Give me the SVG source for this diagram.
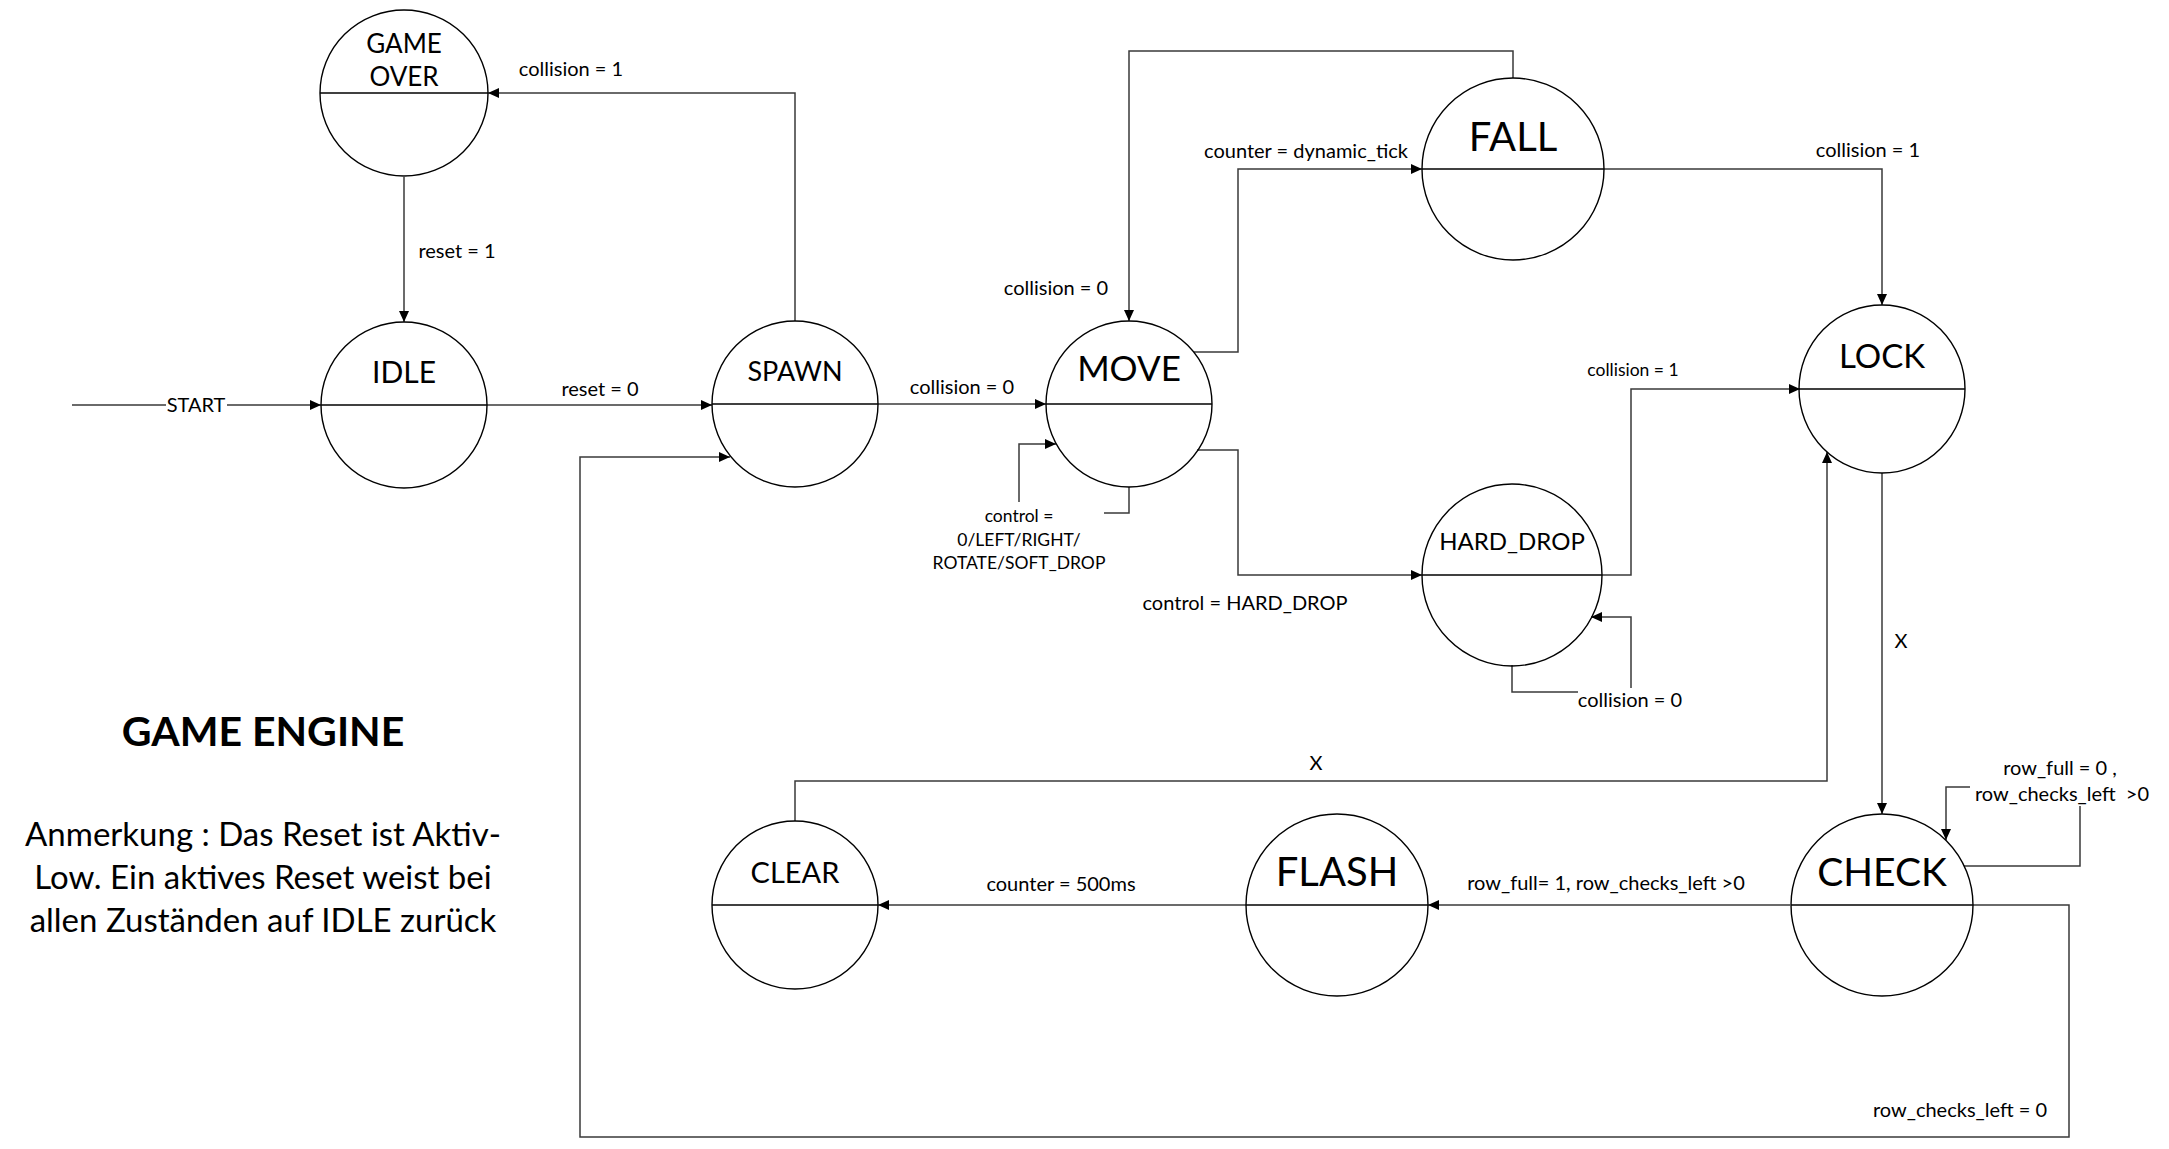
<svg xmlns="http://www.w3.org/2000/svg" width="2169" height="1149" viewBox="0 0 2169 1149">
<defs>
<marker id="arr" markerUnits="userSpaceOnUse" markerWidth="11" markerHeight="10" refX="11" refY="5" orient="auto">
<path d="M0,0 L11,5 L0,10 z" fill="#000"/>
</marker>
<style>
text{font-family:Lato,"Liberation Sans",sans-serif;fill:#000;text-anchor:middle}
.st ellipse{fill:none;stroke:#000;stroke-width:1.4}
.st line{stroke:#000;stroke-width:1.4}
.e{fill:none;stroke:#3a3a3a;stroke-width:1.5}
.a{marker-end:url(#arr)}
.lb{font-size:20px}
.sm{font-size:17.5px}
</style>
</defs>
<rect width="2169" height="1149" fill="#fff"/>

<g id="connectors">
<path class="e a" d="M72,405 H166 M227,405 H321"/>
<path class="e a" d="M487,405 H712"/>
<path class="e a" d="M404,177 V322"/>
<path class="e a" d="M795,321 V93 H488"/>
<path class="e a" d="M878,404 H1046"/>
<path class="e a" d="M1194,352 H1238 V169 H1422"/>
<path class="e a" d="M1513,78 V51 H1129 V321"/>
<path class="e a" d="M1604,169 H1882 V305"/>
<path class="e a" d="M1197,450 H1238 V575 H1422"/>
<path class="e" d="M1129,487 V513 H1104"/>
<path class="e a" d="M1019,502 V444 H1056"/>
<path class="e a" d="M1602,575 H1631 V389 H1800"/>
<path class="e" d="M1512,665 V692 H1578"/>
<path class="e a" d="M1631,688 V617 H1591"/>
<path class="e a" d="M1882,473 V814"/>
<path class="e" d="M1964,866 H2080 V806"/>
<path class="e a" d="M1970,787 H1946 V840"/>
<path class="e a" d="M1790,905 H1428"/>
<path class="e a" d="M1246,905 H878"/>
<path class="e a" d="M795,821 V781 H1827 V452"/>
<path class="e a" d="M1973,905 H2069 V1137 H580 V457 H730"/>

<text class="lb" x="196" y="412">START</text>
<text class="lb" x="600" y="396">reset = 0</text>
<text class="lb" x="457" y="258">reset = 1</text>
<text class="lb" x="571" y="76">collision = 1</text>
<text class="lb" x="962" y="394">collision = 0</text>
<text class="lb" x="1306" y="158">counter = dynamic_tick</text>
<text class="lb" x="1056" y="295">collision = 0</text>
<text class="lb" x="1868" y="157">collision = 1</text>
<text class="sm" x="1633" y="376">collision = 1</text>
<text class="sm" x="1019" y="522">control =</text>
<text class="sm" x="1019" y="546">0/LEFT/RIGHT/</text>
<text class="sm" x="1019" y="569">ROTATE/SOFT_DROP</text>
<text class="lb" x="1245" y="610">control = HARD_DROP</text>
<text class="lb" x="1630" y="707">collision = 0</text>
<text class="lb" x="1901" y="648">X</text>
<text class="lb" x="1316" y="770">X</text>
<text class="lb" x="2060" y="775">row_full = 0 ,</text>
<text class="lb" x="2062" y="801">row_checks_left &#160;&gt;0</text>
<text class="lb" x="1606" y="890">row_full= 1, row_checks_left &gt;0</text>
<text class="lb" x="1061" y="891">counter = 500ms</text>
<text class="lb" x="1960" y="1117">row_checks_left = 0</text>
</g>

<g id="GAME_OVER" class="st">
<ellipse cx="404" cy="93" rx="84" ry="83"/>
<line x1="320" y1="93" x2="488" y2="93"/>
<text x="404" y="53" font-size="26">GAME</text>
<text x="404" y="86" font-size="26">OVER</text>
</g>
<g id="IDLE" class="st">
<ellipse cx="404" cy="405" rx="83" ry="83"/>
<line x1="321" y1="405" x2="487" y2="405"/>
<text x="404" y="383" font-size="30">IDLE</text>
</g>
<g id="SPAWN" class="st">
<ellipse cx="795" cy="404" rx="83" ry="83"/>
<line x1="712" y1="404" x2="878" y2="404"/>
<text x="795" y="381" font-size="27">SPAWN</text>
</g>
<g id="MOVE" class="st">
<ellipse cx="1129" cy="404" rx="83" ry="83"/>
<line x1="1046" y1="404" x2="1212" y2="404"/>
<text x="1129" y="381" font-size="35">MOVE</text>
</g>
<g id="FALL" class="st">
<ellipse cx="1513" cy="169" rx="91" ry="91"/>
<line x1="1422" y1="169" x2="1604" y2="169"/>
<text x="1513" y="151" font-size="40">FALL</text>
</g>
<g id="LOCK" class="st">
<ellipse cx="1882" cy="389" rx="83" ry="84"/>
<line x1="1799" y1="389" x2="1965" y2="389"/>
<text x="1882" y="368" font-size="33">LOCK</text>
</g>
<g id="HARD_DROP" class="st">
<ellipse cx="1512" cy="575" rx="90" ry="91"/>
<line x1="1422" y1="575" x2="1602" y2="575"/>
<text x="1512" y="550" font-size="24">HARD_DROP</text>
</g>
<g id="CHECK" class="st">
<ellipse cx="1882" cy="905" rx="91" ry="91"/>
<line x1="1791" y1="905" x2="1973" y2="905"/>
<text x="1882" y="886" font-size="39">CHECK</text>
</g>
<g id="FLASH" class="st">
<ellipse cx="1337" cy="905" rx="91" ry="91"/>
<line x1="1246" y1="905" x2="1428" y2="905"/>
<text x="1337" y="886" font-size="40">FLASH</text>
</g>
<g id="CLEAR" class="st">
<ellipse cx="795" cy="905" rx="83" ry="84"/>
<line x1="712" y1="905" x2="878" y2="905"/>
<text x="795" y="883" font-size="29">CLEAR</text>
</g>

<g id="notes">
<text x="263" y="746" font-size="41" font-weight="bold">GAME ENGINE</text>
<text x="263" y="846" font-size="33">Anmerkung : Das Reset ist Aktiv-</text>
<text x="263" y="889" font-size="33">Low. Ein aktives Reset weist bei</text>
<text x="263" y="932" font-size="33">allen Zuständen auf IDLE zurück</text>
</g>
</svg>
